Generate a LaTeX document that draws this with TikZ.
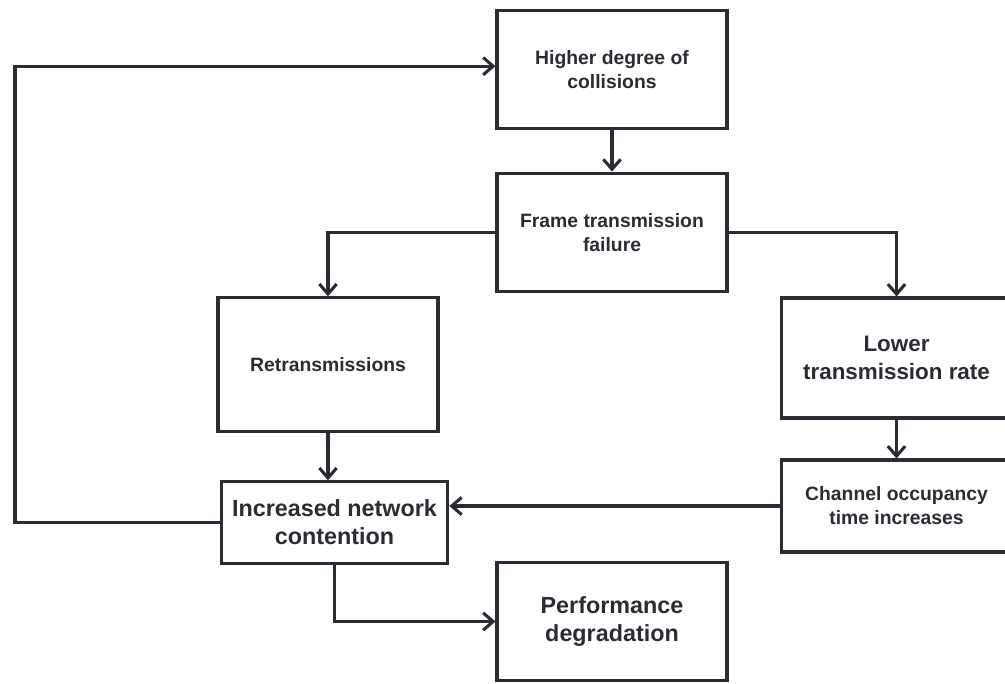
\documentclass[tikz,border=0pt]{standalone}
\usepackage{fontspec}
\setmainfont{Liberation Sans}
\usetikzlibrary{arrows.meta}
\definecolor{ink}{HTML}{2B2B33}

\tikzset{
  box/.style={draw=ink, line width=2.3pt, text=ink, align=center, font=\fontsize{14.5}{18}\selectfont\bfseries},
  bigbox/.style={box, font=\fontsize{17.5}{21}\selectfont\bfseries},
  arr/.style={draw=ink, line width=2.3pt, -{Straight Barb[length=7.5pt,width=13pt,line width=2.3pt]}},
  link/.style={draw=ink, line width=2.3pt}
}

\begin{document}
\begin{tikzpicture}[x=0.75pt,y=-0.75pt]
  \useasboundingbox (0,0) rectangle (1005,683);

  % boxes
  \node[box, minimum width=172.5pt, minimum height=89pt] (coll) at (612,69.5) {Higher degree of\\collisions};
  \node[box, minimum width=172.5pt, minimum height=89pt] (fail) at (612,232.5) {Frame transmission\\failure};
  \node[box, minimum width=165pt, minimum height=100pt] (retr) at (328,364.5) {Retransmissions};
  \node[box, minimum width=173pt, minimum height=90pt, font=\fontsize{16.8}{21}\selectfont\bfseries] (lower) at (896.5,358) {Lower\\transmission rate};
  \node[box, minimum width=173pt, minimum height=69pt] (chan) at (896.5,506) {Channel occupancy\\time increases};
  \node[bigbox, minimum width=170pt, minimum height=61pt] (cont) at (334.5,522.5) {Increased network\\contention};
  \node[bigbox, minimum width=172.5pt, minimum height=88pt] (perf) at (612,621.5) {Performance\\degradation};

  % connectors
  \draw[arr] (coll) -- (fail);
  \draw[arr] (fail.west) -| (retr.north);
  \draw[arr] (fail.east) -| (lower.north);
  \draw[arr] (lower) -- (chan);
  \draw[arr] (chan.west) -- (chan.west -| cont.east);
  \draw[arr] (retr.south) -- (retr.south |- cont.north);
  \draw[arr] (cont.south) |- (perf.west);

  % feedback loop
  \coordinate (loop) at (15,520);
  \draw[arr] (cont.west) -- (cont.west -| loop) |- ([yshift=2.5pt]coll.west);
\end{tikzpicture}
\end{document}
